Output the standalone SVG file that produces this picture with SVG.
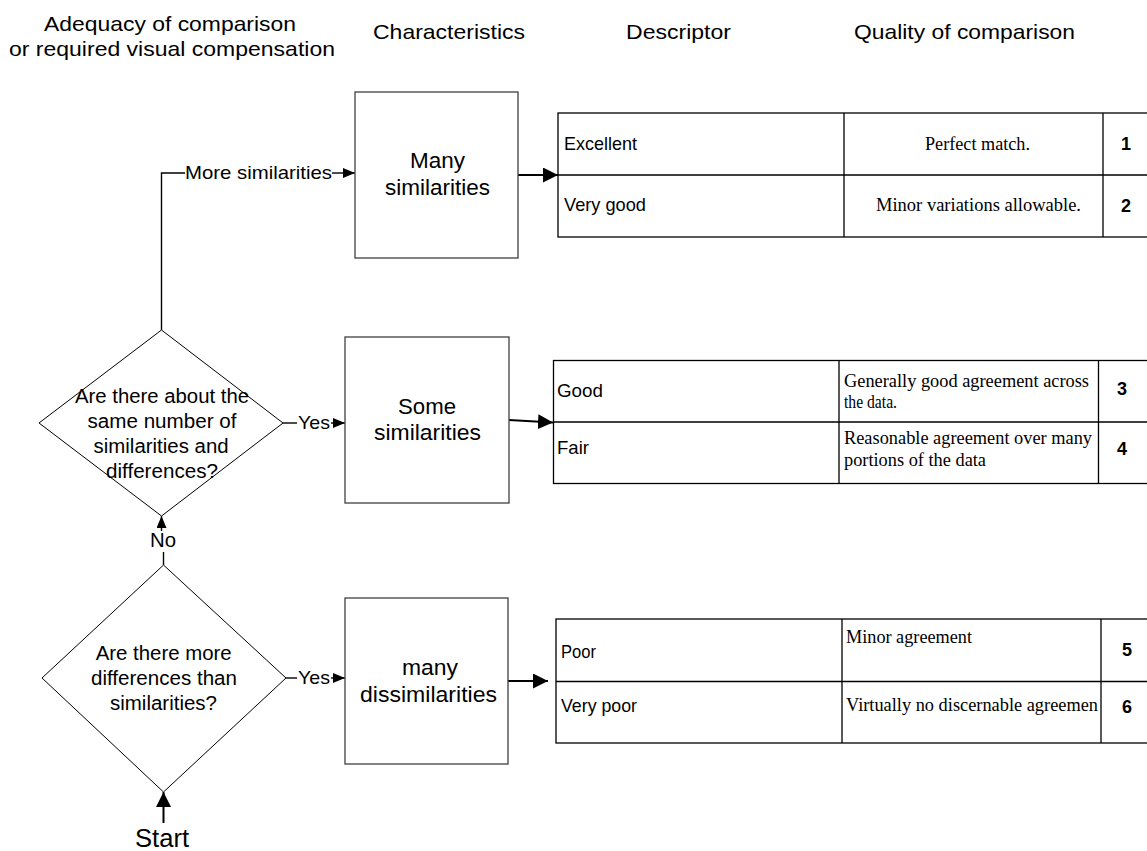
<svg xmlns="http://www.w3.org/2000/svg" width="1147" height="851" viewBox="0 0 1147 851">
<style>
text{font-family:"Liberation Sans",Arial,sans-serif;fill:#000}
.hd{font-size:21px}
.bx{font-size:21.5px}
.dm{font-size:19.5px}
.lb{font-size:19px}
.tl{font-size:17.7px}
.tr{font-family:"Liberation Serif","Times New Roman",serif;font-size:18px}
.num{font-size:18px;font-weight:bold}
.box{fill:#fff;stroke:#404040;stroke-width:1.3}
.dia{fill:#fff;stroke:#000;stroke-width:1}
.tbl{fill:#fff;stroke:#000;stroke-width:1.3}
.tln{stroke:#000;stroke-width:1.3;fill:none}
.con{stroke:#000;stroke-width:1.4;fill:none}
.thk{stroke:#000;stroke-width:2;fill:none}
</style>
<defs>
<marker id="arrS" markerUnits="userSpaceOnUse" viewBox="0 0 12 10" markerWidth="12" markerHeight="10" refX="12" refY="5" orient="auto"><path d="M0,0 L12,5 L0,10 z" fill="#000"/></marker>
<marker id="arrL" markerUnits="userSpaceOnUse" viewBox="0 0 15 15" markerWidth="15" markerHeight="15" refX="15" refY="7.5" orient="auto"><path d="M0,0 L15,7.5 L0,15 z" fill="#000"/></marker>
</defs>
<rect width="1147" height="851" fill="#fff"/>

<g id="headers">
<text class="hd" x="44" y="31" textLength="252" lengthAdjust="spacingAndGlyphs">Adequacy of comparison</text>
<text class="hd" x="9" y="56" textLength="326" lengthAdjust="spacingAndGlyphs">or required visual compensation</text>
<text class="hd" x="373" y="39" textLength="152" lengthAdjust="spacingAndGlyphs">Characteristics</text>
<text class="hd" x="626" y="39" textLength="105" lengthAdjust="spacingAndGlyphs">Descriptor</text>
<text class="hd" x="854" y="39" textLength="221" lengthAdjust="spacingAndGlyphs">Quality of comparison</text>
</g>

<g id="connectors">
<path class="con" d="M161.5,330 V173 H185"/>
<path class="con" d="M332,173 H355" marker-end="url(#arrS)"/>
<text class="lb" x="185" y="179" textLength="147" lengthAdjust="spacingAndGlyphs">More similarities</text>
<path class="thk" d="M518,175 H558" marker-end="url(#arrL)"/>
<path class="con" d="M283,423 H297"/>
<path class="con" d="M331,423 H345" marker-end="url(#arrS)"/>
<text class="lb" style="font-size:18.5px" x="298" y="429" textLength="32" lengthAdjust="spacingAndGlyphs">Yes</text>
<path class="thk" d="M509,420 L553,422.5" marker-end="url(#arrL)"/>
<path class="con" d="M163.5,565 V552"/>
<path class="con" d="M161.5,531 V516" marker-end="url(#arrS)"/>
<text class="lb" style="font-size:19.5px" x="150" y="547" textLength="26" lengthAdjust="spacingAndGlyphs">No</text>
<path class="con" d="M286,678 H297"/>
<path class="con" d="M331,678 H345" marker-end="url(#arrS)"/>
<text class="lb" style="font-size:18.5px" x="298" y="684" textLength="32" lengthAdjust="spacingAndGlyphs">Yes</text>
<path class="thk" d="M508,681 H548" marker-end="url(#arrL)"/>
<path class="thk" d="M163.5,823 V792" marker-end="url(#arrL)"/>
<text style="font-size:25px" x="135" y="847" textLength="54" lengthAdjust="spacingAndGlyphs">Start</text>
</g>

<g id="many-similarities">
<rect class="box" x="355" y="92" width="163" height="166"/>
<text class="bx" x="410" y="168" textLength="55" lengthAdjust="spacingAndGlyphs">Many</text>
<text class="bx" x="385" y="195" textLength="105" lengthAdjust="spacingAndGlyphs">similarities</text>
</g>

<g id="some-similarities">
<rect class="box" x="345" y="337" width="164" height="166"/>
<text class="bx" x="398" y="414" textLength="58" lengthAdjust="spacingAndGlyphs">Some</text>
<text class="bx" x="374" y="440" textLength="107" lengthAdjust="spacingAndGlyphs">similarities</text>
</g>

<g id="many-dissimilarities">
<rect class="box" x="345" y="598" width="163" height="166"/>
<text class="bx" x="402" y="675" textLength="56" lengthAdjust="spacingAndGlyphs">many</text>
<text class="bx" x="360" y="702" textLength="137" lengthAdjust="spacingAndGlyphs">dissimilarities</text>
</g>

<g id="decision-same">
<polygon class="dia" points="161.5,330 283,423 161.5,516 39,423"/>
<text class="dm" x="75" y="403" textLength="174" lengthAdjust="spacingAndGlyphs">Are there about the</text>
<text class="dm" x="87.5" y="428" textLength="149" lengthAdjust="spacingAndGlyphs">same number of</text>
<text class="dm" x="93.6" y="453" textLength="135" lengthAdjust="spacingAndGlyphs">similarities and</text>
<text class="dm" x="106" y="478" textLength="112" lengthAdjust="spacingAndGlyphs">differences?</text>
</g>

<g id="decision-more">
<polygon class="dia" points="163.5,565 286,678 163.5,792 42,678"/>
<text class="dm" x="95.7" y="660" textLength="136" lengthAdjust="spacingAndGlyphs">Are there more</text>
<text class="dm" x="91" y="685" textLength="146" lengthAdjust="spacingAndGlyphs">differences than</text>
<text class="dm" x="110" y="710" textLength="107" lengthAdjust="spacingAndGlyphs">similarities?</text>
</g>

<g id="table-top">
<rect class="tbl" x="558" y="113" width="600" height="124"/>
<path class="tln" d="M558,175 H1158 M844,113 V237 M1103,113 V237"/>
<text class="tl" x="564" y="150" textLength="73" lengthAdjust="spacingAndGlyphs">Excellent</text>
<text class="tr" x="925" y="150" textLength="105" lengthAdjust="spacingAndGlyphs">Perfect match.</text>
<text class="num" x="1121" y="150">1</text>
<text class="tl" x="564" y="211" textLength="82" lengthAdjust="spacingAndGlyphs">Very good</text>
<text class="tr" x="876" y="211" textLength="205" lengthAdjust="spacingAndGlyphs">Minor variations allowable.</text>
<text class="num" x="1121" y="212">2</text>
</g>

<g id="table-mid">
<rect class="tbl" x="553.5" y="360.5" width="610" height="123"/>
<path class="tln" d="M553.5,422 H1163 M839,360.5 V483.5 M1098.5,360.5 V483.5"/>
<text class="tl" x="557" y="397" textLength="46" lengthAdjust="spacingAndGlyphs">Good</text>
<text class="tr" x="844" y="387" textLength="245" lengthAdjust="spacingAndGlyphs">Generally good agreement across</text>
<text class="tr" x="844" y="408" textLength="53" lengthAdjust="spacingAndGlyphs">the data.</text>
<text class="num" x="1117" y="395">3</text>
<text class="tl" x="557" y="454" textLength="32" lengthAdjust="spacingAndGlyphs">Fair</text>
<text class="tr" x="844" y="444" textLength="248" lengthAdjust="spacingAndGlyphs">Reasonable agreement over many</text>
<text class="tr" x="844" y="466" textLength="142" lengthAdjust="spacingAndGlyphs">portions of the data</text>
<text class="num" x="1117" y="455">4</text>
</g>

<g id="table-bottom">
<rect class="tbl" x="556" y="619" width="600" height="124"/>
<path class="tln" d="M556,681.5 H1156 M842,619 V743 M1101,619 V743"/>
<text class="tl" x="561" y="658" textLength="35" lengthAdjust="spacingAndGlyphs">Poor</text>
<text class="tr" x="846" y="643" textLength="126" lengthAdjust="spacingAndGlyphs">Minor agreement</text>
<text class="num" x="1122" y="656">5</text>
<text class="tl" x="561" y="712" textLength="76" lengthAdjust="spacingAndGlyphs">Very poor</text>
<text class="tr" x="846" y="711" textLength="252" lengthAdjust="spacingAndGlyphs">Virtually no discernable agreemen</text>
<text class="num" x="1122" y="713">6</text>
</g>
</svg>
